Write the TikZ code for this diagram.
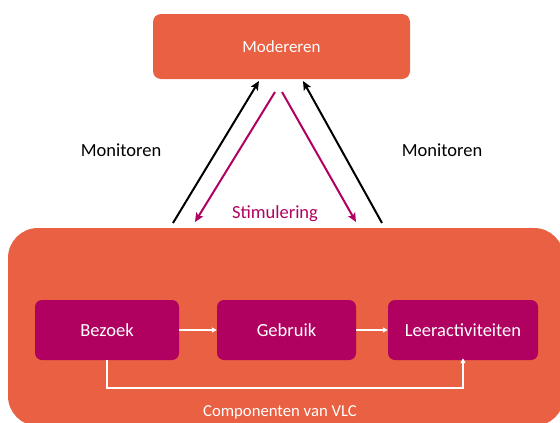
\documentclass[tikz,border=0pt]{standalone}
\usepackage{fontspec}
\setmainfont{Carlito}
\usetikzlibrary{arrows.meta}
\definecolor{vorange}{RGB}{233,96,66}
\definecolor{vmagenta}{RGB}{176,0,96}
\begin{document}
\begin{tikzpicture}[x=1pt,y=-1pt,
  topbox/.style={fill=vorange,rounded corners=8pt,minimum width=257pt,minimum height=65pt,inner sep=0pt,text=white,font=\fontsize{17}{20}\selectfont},
  compbox/.style={fill=vmagenta,rounded corners=7pt,minimum height=60pt,inner sep=0pt,text=white,font=\fontsize{18.5}{21}\selectfont},
  lbl/.style={font=\fontsize{18.5}{21}\selectfont,inner sep=0pt},
  upar/.style={line width=2pt,-{Stealth[length=9pt,width=8pt,inset=2pt]}},
  downar/.style={line width=2pt,draw=vmagenta,-{Stealth[length=9pt,width=8pt,inset=2pt]}},
  flow/.style={white,line width=1.5pt,-{Triangle[length=5pt,width=5pt]}}]
\useasboundingbox (0,0) rectangle (560,423);
\begin{scope}
\clip (0,0) rectangle (560,423);
\fill[vorange,rounded corners=30pt] (8,228) rectangle (564,426);
\end{scope}
\node[topbox] (mod) at (281.5,46.5) {Modereren};
\node[compbox,minimum width=144pt] (bez) at (107,330) {Bezoek};
\node[compbox,minimum width=139pt] (geb) at (286.5,330) {Gebruik};
\node[compbox,minimum width=150pt] (lee) at (463,330) {Leeractiviteiten};
\node[text=white,font=\fontsize{16.7}{20}\selectfont,inner sep=0pt] (comp) at (280,412) {Componenten van VLC};
\node[lbl] (monl) at (121,150) {Monitoren};
\node[lbl] (monr) at (442,150) {Monitoren};
\node[lbl,text=vmagenta] (stim) at (275,214) {Stimulering};
\coordinate (bl1) at (173,223);
\coordinate (bl2) at (259,81);
\coordinate (br1) at (382,223);
\coordinate (br2) at (303,81);
\coordinate (ml1) at (275,92);
\coordinate (ml2) at (195,222);
\coordinate (mr1) at (282,92);
\coordinate (mr2) at (356,222);
\draw[upar] (bl1) -- (bl2);
\draw[upar] (br1) -- (br2);
\draw[downar] (ml1) -- (ml2);
\draw[downar] (mr1) -- (mr2);
\draw[flow] (bez.east) -- (geb.west);
\draw[flow] (geb.east) -- (lee.west);
\draw[flow] (bez.south) -- ++(0,28) -| ([yshift=2pt]lee.south);
\end{tikzpicture}
\end{document}
